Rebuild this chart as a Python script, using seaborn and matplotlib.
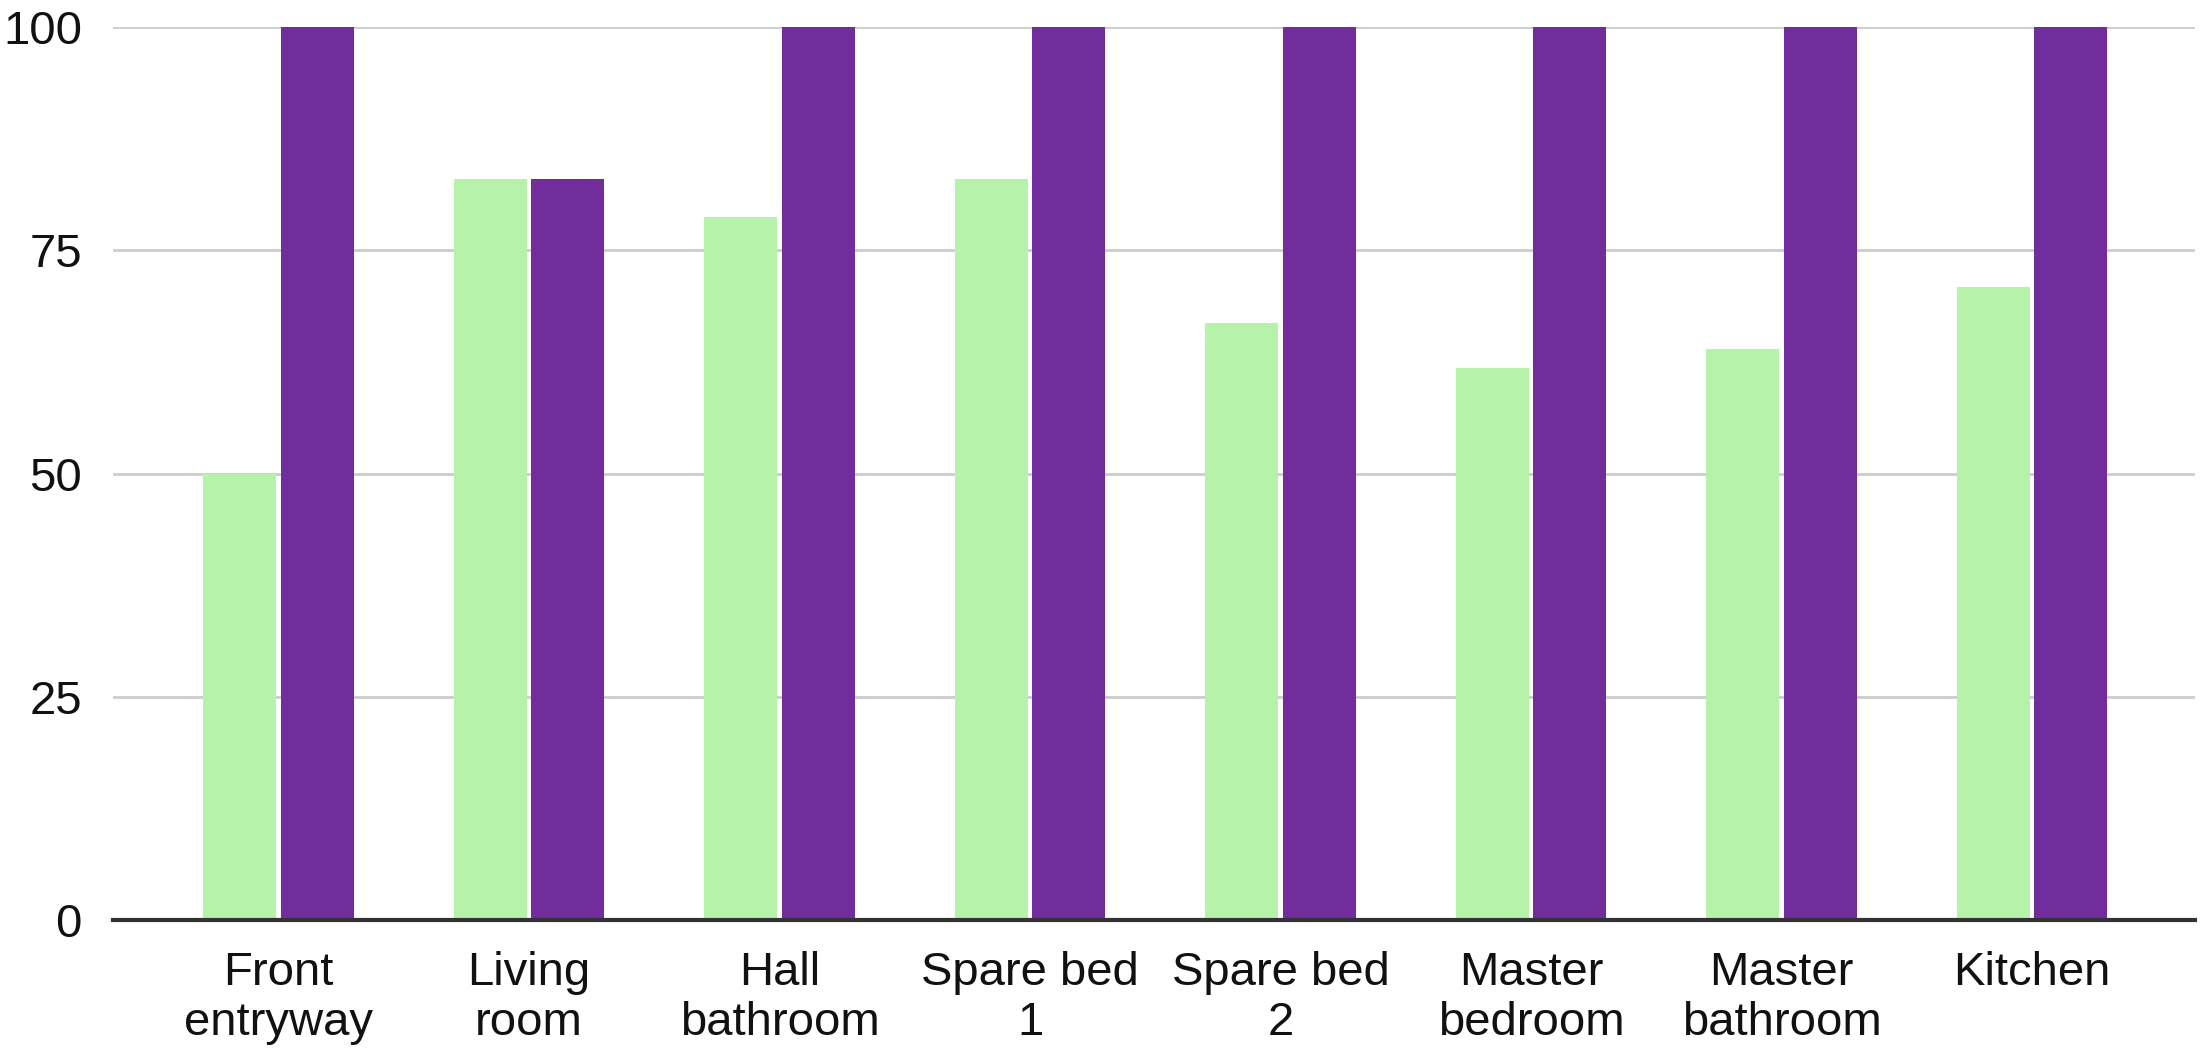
import matplotlib
matplotlib.use("Agg")
import matplotlib.pyplot as plt
import seaborn as sns
import pandas as pd

categories = ["Front\nentryway", "Living\nroom", "Hall\nbathroom", "Spare bed\n1",
              "Spare bed\n2", "Master\nbedroom", "Master\nbathroom", "Kitchen"]
series_a = [50, 83, 78.7, 83, 66.9, 61.8, 64, 70.9]
series_b = [100, 83, 100, 100, 100, 100, 100, 100]
series_names = ["A", "B"]
y_ticks = [0, 25, 50, 75, 100]

df = pd.DataFrame({
    "cat": categories * 2,
    "val": series_a + series_b,
    "series": [series_names[0]] * len(categories) + [series_names[1]] * len(categories),
})

sns.set_theme(style="white")
plt.rcParams['font.family'] = ['Liberation Sans', 'DejaVu Sans']

fig = plt.figure(figsize=(22.06, 10.49), dpi=100)
ax = fig.add_axes([0.051, 0.123, 0.944, 0.851])

sns.barplot(data=df, x="cat", y="val", hue="series", order=categories,
            palette=["#b6f2aa", "#712d9b"], width=0.62, gap=0.06,
            saturation=1, legend=False, ax=ax, linewidth=0)

ax.set_ylim(0, 100)
ax.set_xlim(-0.663, 7.65)
ax.set_yticks(y_ticks)
ax.set_yticklabels([str(t) for t in y_ticks])
ax.set_axisbelow(True)
ax.yaxis.grid(True, color="#cccccc", linewidth=2)
ax.xaxis.grid(False)
for s in ["top", "right", "left"]:
    ax.spines[s].set_visible(False)
ax.spines["bottom"].set_color("#333333")
ax.spines["bottom"].set_linewidth(3)
ax.spines["bottom"].set_zorder(5)
ax.tick_params(axis="both", length=0, labelsize=34, colors="#111111")
ax.tick_params(axis="y", pad=22)
ax.tick_params(axis="x", pad=22)
for lbl in ax.get_xticklabels():
    lbl.set_linespacing(1.2)
ax.set_xlabel("")
ax.set_ylabel("")

fig.savefig("out.png", dpi=100, facecolor="white")
